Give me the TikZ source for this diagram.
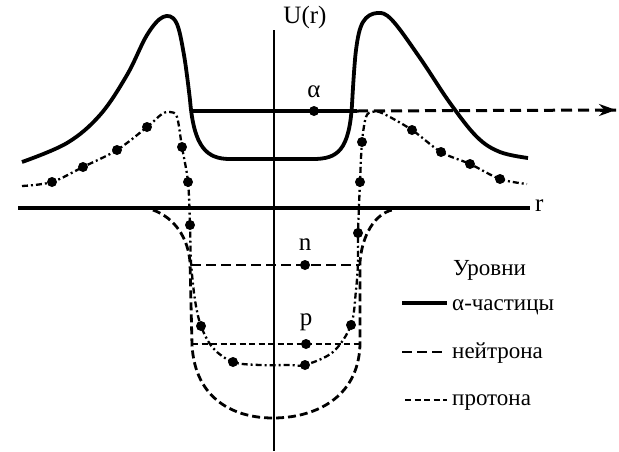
\documentclass[tikz,border=0pt]{standalone}
\usepackage{fontspec}
\setmainfont{Liberation Serif}
\usetikzlibrary{arrows.meta}
\begin{document}
\begin{tikzpicture}[x=1pt,y=-1pt,
  axis/.style={line width=4pt},
  vaxis/.style={line width=2.2pt},
  alphapot/.style={line width=3.8pt,line join=round},
  protpot/.style={line width=2.3pt,dash pattern=on 6pt off 3pt on 2pt off 3pt},
  neutpot/.style={line width=2.8pt,dash pattern=on 8pt off 4pt},
  nlevel/.style={line width=2.8pt,dash pattern=on 10pt off 5pt},
  plevel/.style={line width=2.8pt,dash pattern=on 6pt off 3.5pt},
  alevel/.style={line width=4.2pt},
  alevdash/.style={line width=3pt,dash pattern=on 11pt off 6pt},
  dot/.style={circle,fill=black,inner sep=0pt,minimum size=10pt},
  lbl/.style={font=\fontsize{25}{27}\selectfont,inner sep=0pt},
  leg/.style={font=\fontsize{23}{25}\selectfont,inner sep=0pt,anchor=base west}]
\useasboundingbox (0,0) rectangle (619,451);

% axes
\coordinate (ytop) at (274,30);
\coordinate (ybot) at (274,451);
\coordinate (xl) at (18,208);
\coordinate (xr) at (530,208);
\draw[vaxis] (ytop) -- (ybot);
\draw[axis] (xl) -- (xr);
\node[lbl] (U) at (305,17) {U(r)};
\node[lbl,anchor=west] (r) at (535,206) {r};

% alpha potential (solid)
\draw[alphapot] plot[smooth,tension=0.6] coordinates {(22,162) (67,143) (100,115) (127,75) (147,35) (163,17) (176,22) (184,55) (190,100)}
  .. controls (194,148) and (207,159) .. (230,159) -- (313,159)
  .. controls (338,159) and (349,150) .. (352,105)
  -- plot[smooth,tension=0.6] coordinates {(352,105) (356,50) (363,22) (377,13) (392,20) (420,58) (450,103) (477,137) (500,152) (528,158)};

% proton potential (dash-dot with dots)
\draw[protpot] plot[smooth,tension=0.55] coordinates {(22,186) (52,182) (83,167) (117,150) (147,127) (162,114) (170,112) (177,117) (182,147) (188,182) (190,225) (191,262) (195,300) (201,326) (213,348) (233,362) (260,365) (290,365) (305,365) (333,352) (351,325) (356,290) (358,262) (358,233) (360,182) (362,142) (366,117) (372,112) (382,113) (412,130) (441,152) (470,164) (500,179) (527,184)};
\foreach \p in {(52,182),(83,167),(117,150),(147,127),(182,147),(188,182),(190,225),(201,326),(233,362),(305,365),(351,325),(358,233),(360,182),(362,142),(412,130),(441,152),(470,164),(500,179)}
  \node[dot] at \p {};

% neutron potential (dashed well)
\draw[neutpot] (153,210) .. controls (175,218) and (188,238) .. (190,262) -- (192,345)
  .. controls (195,400) and (235,418) .. (273,418)
  .. controls (312,418) and (358,400) .. (360,345) -- (360,262)
  .. controls (362,235) and (375,214) .. (392,210);

% alpha level
\coordinate (aL) at (193,111);
\coordinate (aR) at (357,111);
\coordinate (aE) at (616,110);
\draw[alevel] (aL) -- (aR);
\draw[alevdash] (aR) -- (aE);
\draw[line width=3pt,-{Stealth[length=17pt,width=12pt]}] (600,110) -- (aE);
\node[dot] (ad) at (314,111) {};
\node[lbl] (al) at (314,92) {α};

% n level
\coordinate (nL) at (191,265);
\coordinate (nR) at (360,265);
\draw[nlevel] (nL) -- (nR);
\node[dot] (nd) at (305,265) {};
\node[lbl] (nl) at (305,245) {n};

% p level
\coordinate (pL) at (192,344);
\coordinate (pR) at (361,344);
\draw[plevel] (pL) -- (pR);
\node[dot] (pd) at (306,344) {};
\node[lbl] (pl) at (306,322) {p};

% legend
\node[leg] (lt) at (453,275) {Уровни};
\coordinate (l1a) at (402,303); \coordinate (l1b) at (447,303);
\coordinate (l2a) at (402,352); \coordinate (l2b) at (447,352);
\coordinate (l3a) at (405,400); \coordinate (l3b) at (447,400);
\draw[alevel] (l1a) -- (l1b);
\draw[nlevel] (l2a) -- (l2b);
\draw[plevel] (l3a) -- (l3b);
\node[leg] (lg1) at (452,310) {α-частицы};
\node[leg] (lg2) at (452,358) {нейтрона};
\node[leg] (lg3) at (452,405) {протона};
\end{tikzpicture}
\end{document}
